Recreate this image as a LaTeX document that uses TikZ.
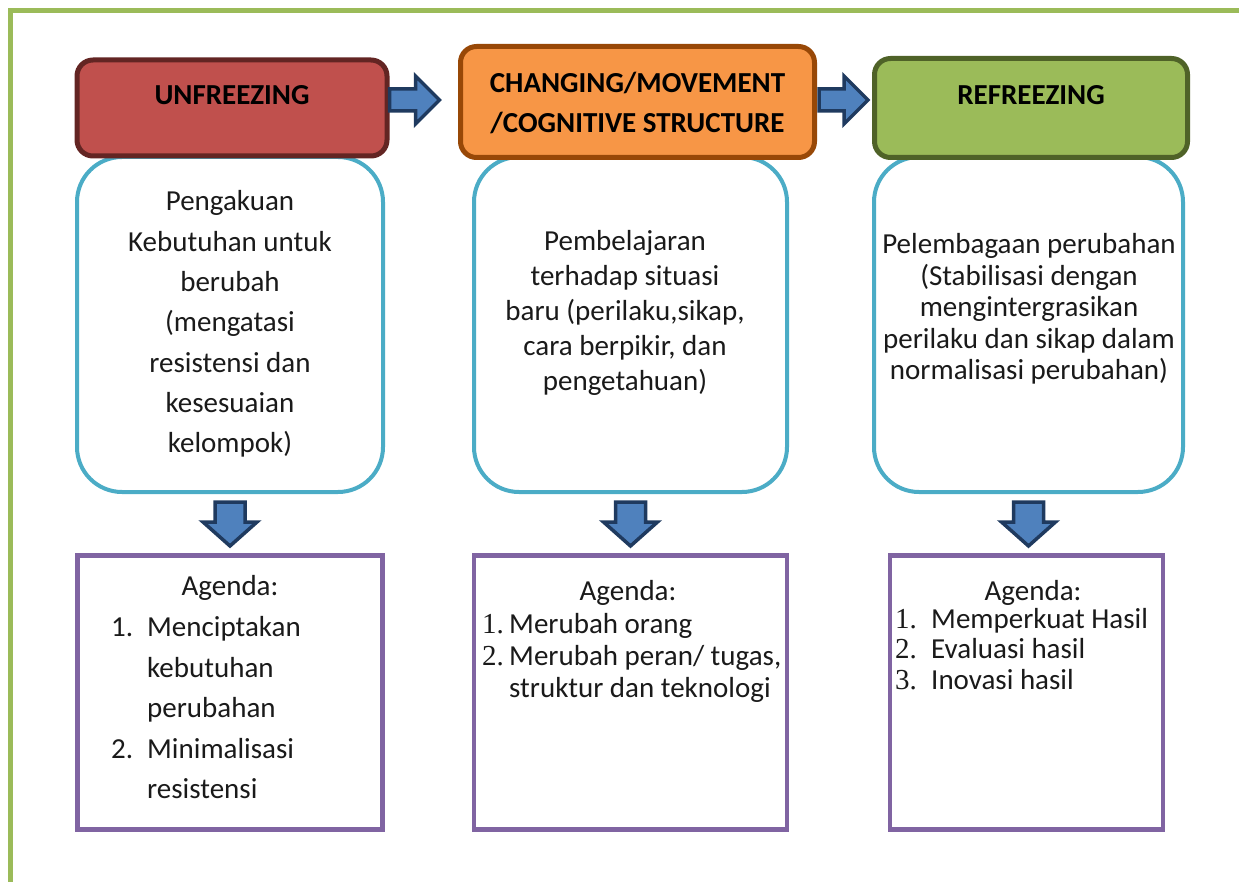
\documentclass[tikz,border=0pt]{standalone}
\usepackage{fontspec}
\setmainfont{Carlito}
\newfontfamily\numfont{Liberation Serif}
\definecolor{frameG}{HTML}{9BBB59}
\definecolor{redF}{HTML}{C0504D}
\definecolor{redD}{HTML}{632523}
\definecolor{orgF}{HTML}{F79646}
\definecolor{orgD}{HTML}{984807}
\definecolor{grnF}{HTML}{9BBB59}
\definecolor{grnD}{HTML}{4F6228}
\definecolor{cyanB}{HTML}{4BACC6}
\definecolor{purB}{HTML}{8064A2}
\definecolor{arrF}{HTML}{4F81BD}
\definecolor{arrD}{HTML}{1F3A5F}
\definecolor{txtC}{HTML}{1A1A1A}
\newcommand\mlines[1]{\begin{tabular}[t]{@{}c@{}}#1\end{tabular}}
\begin{document}
\begin{tikzpicture}[x=1pt,y=-1pt,
  head/.style={draw, line width=5pt, rounded corners=16pt, inner sep=0pt},
  cbox/.style={draw=cyanB, line width=4pt, rounded corners=45pt, minimum height=335pt, fill=white},
  pbox/.style={draw=purB, line width=4.5pt, minimum height=274pt, fill=white},
  barrow/.style={draw=arrD, fill=arrF, line width=3.5pt, line join=miter},
  htxt/.style={inner sep=0pt, font=\fontsize{29}{40}\selectfont\bfseries, text=black},
  txt/.style={inner sep=0pt, text=txtC},
  item/.style={inner sep=0pt, text=txtC, anchor=base west, font=\fontsize{29}{35}\selectfont},
]
\useasboundingbox (0,0) rectangle (1239,882);
% outer frame
\draw[frameG, line width=5pt] (10.5,882) -- (10.5,10.5) -- (1239,10.5);

% cyan boxes
\node[cbox, minimum width=306pt] (b1) at (230,324.5) {};
\node[cbox, minimum width=313pt] (b2) at (630.5,324.5) {};
\node[cbox, minimum width=309pt] (b3) at (1028.5,324.5) {};

% headers
\node[head, draw=redD, fill=redF, minimum width=310pt, minimum height=96pt] (h1) at (232,108) {};
\node[head, draw=orgD, fill=orgF, minimum width=354pt, minimum height=111pt] (h2) at (637.5,102) {};
\node[head, draw=grnD, fill=grnF, minimum width=313pt, minimum height=99pt] (h3) at (1031,108) {};

% purple boxes
\node[pbox, minimum width=305pt] (p1) at (230,692.5) {};
\node[pbox, minimum width=313pt] (p2) at (630.5,692.5) {};
\node[pbox, minimum width=273pt] (p3) at (1026.5,692.5) {};

% right block arrows
\draw[barrow, shift={(h1.east)}] (0,-19) -- (26,-19) -- (26,-32) -- (50,-8) -- (26,16) -- (26,3) -- (0,3) -- cycle;
\draw[barrow, shift={(h2.east)}] (2,-13) -- (27,-13) -- (27,-26) -- (51,-2) -- (27,22) -- (27,9) -- (2,9) -- cycle;

% down block arrows
\foreach \b in {b1,b2,b3}{
  \draw[barrow, shift={(\b.south)}] (-15,8) -- (15,8) -- (15,28) -- (27,28) -- (0,52) -- (-27,28) -- (-15,28) -- cycle;
}

% header texts
\node[htxt] (t1) at (232,95) {UNFREEZING};
\node[htxt, anchor=base] (t2) at (637.5,93) {\mlines{CHANGING/MOVEMENT\\/COGNITIVE STRUCTURE}};
\node[htxt] (t3) at (1031,95) {REFREEZING};

% cyan box texts
\node[txt, anchor=base, font=\fontsize{29}{40.3}\selectfont] (c1) at (230,211)
  {\mlines{Pengakuan\\Kebutuhan untuk\\berubah\\(mengatasi\\resistensi dan\\kesesuaian\\kelompok)}};
\node[txt, anchor=base, font=\fontsize{29}{35}\selectfont] (c2) at (625,251)
  {\mlines{Pembelajaran\\terhadap situasi\\baru (perilaku,sikap,\\cara berpikir, dan\\pengetahuan)}};
\node[txt, anchor=base, font=\fontsize{29}{31.5}\selectfont] (c3) at (1029,254)
  {\mlines{Pelembagaan perubahan\\(Stabilisasi dengan\\mengintergrasikan\\perilaku dan sikap dalam\\normalisasi perubahan)}};

% agenda 1
\node[txt, anchor=base, font=\fontsize{29}{35}\selectfont] (a1) at (230,595) {Agenda:};
\node[item] (a1n1) at (111,636) {1.};
\node[item] (a1i1) at (147,636) {Menciptakan};
\node[item] (a1i1b) at (147,677) {kebutuhan};
\node[item] (a1i1c) at (147,717) {perubahan};
\node[item] (a1n2) at (111,758) {2.};
\node[item] (a1i2) at (147,758) {Minimalisasi};
\node[item] (a1i2b) at (147,798) {resistensi};

% agenda 2
\node[txt, anchor=base, font=\fontsize{29}{35}\selectfont] (a2) at (628,600) {Agenda:};
\node[item, font=\fontsize{29}{35}\selectfont\numfont] (a2n1) at (482,633) {1.};
\node[item] (a2i1) at (509,633) {Merubah orang};
\node[item, font=\fontsize{29}{35}\selectfont\numfont] (a2n2) at (482,665) {2.};
\node[item] (a2i2) at (509,665) {Merubah peran/ tugas,};
\node[item] (a2i2b) at (509,697) {struktur dan teknologi};

% agenda 3
\node[txt, anchor=base, font=\fontsize{29}{35}\selectfont] (a3) at (1033,600) {Agenda:};
\node[item, font=\fontsize{29}{35}\selectfont\numfont] (a3n1) at (895,628) {1.};
\node[item] (a3i1) at (931,628) {Memperkuat Hasil};
\node[item, font=\fontsize{29}{35}\selectfont\numfont] (a3n2) at (895,658) {2.};
\node[item] (a3i2) at (931,658) {Evaluasi hasil};
\node[item, font=\fontsize{29}{35}\selectfont\numfont] (a3n3) at (895,689) {3.};
\node[item] (a3i3) at (931,689) {Inovasi hasil};
\end{tikzpicture}
\end{document}
